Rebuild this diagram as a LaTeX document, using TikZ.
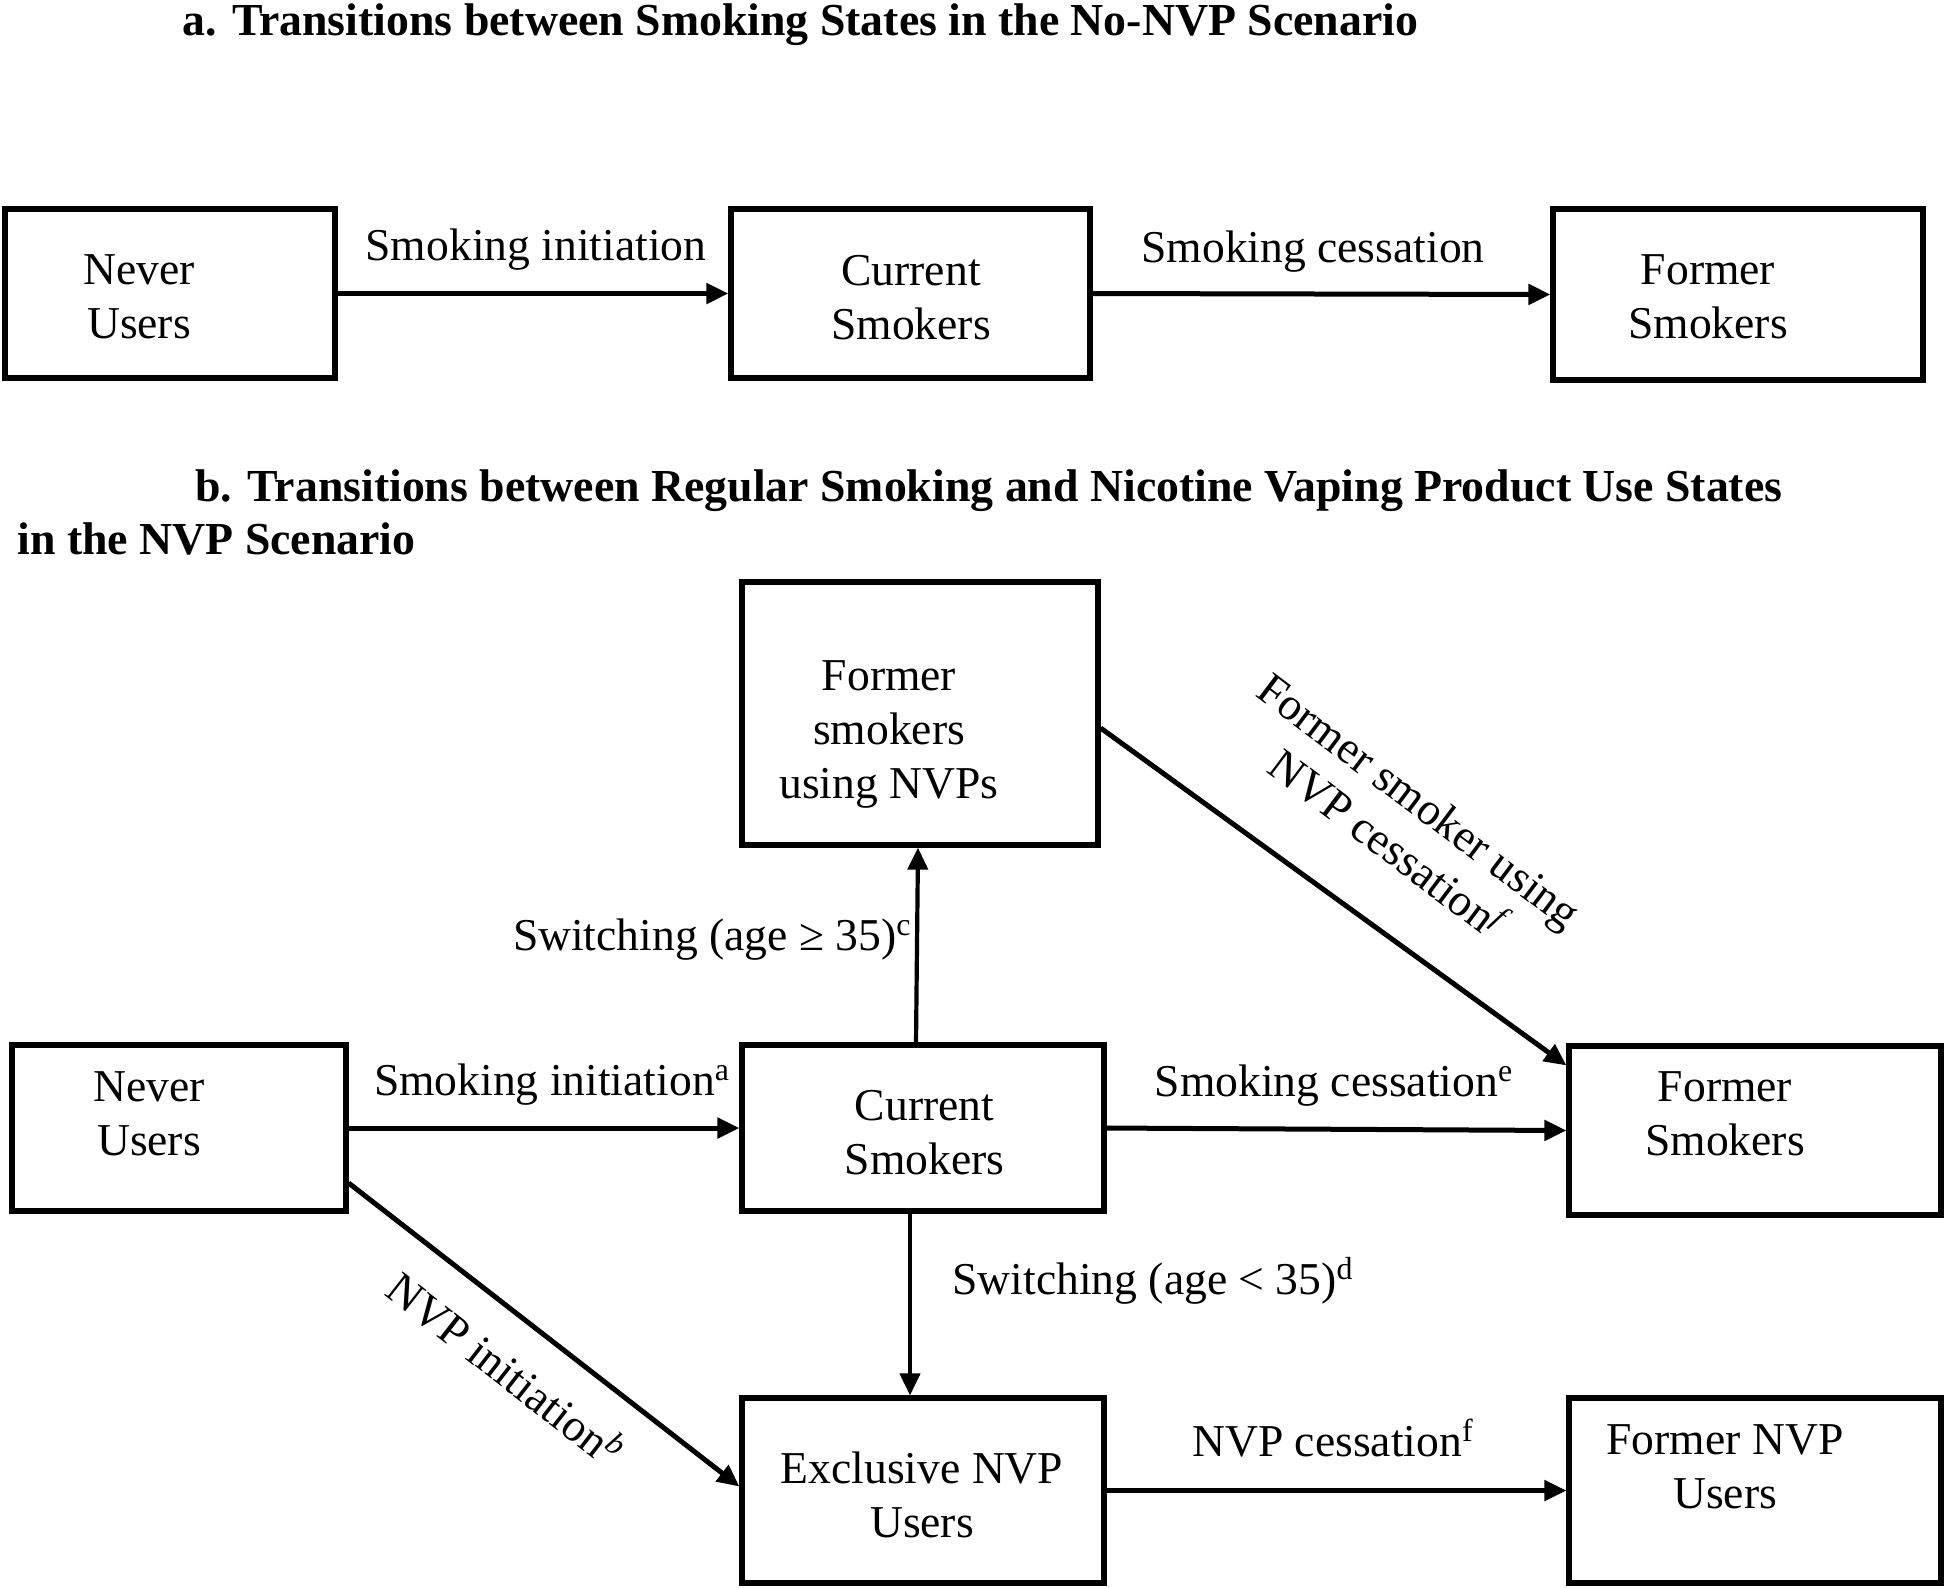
\documentclass[tikz,border=0pt]{standalone}
\usepackage{fontspec}
\setmainfont{Liberation Serif}
\usetikzlibrary{arrows.meta,calc}
\begin{document}
\begin{tikzpicture}[x=0.5pt,y=-0.5pt,
  every node/.style={inner sep=0pt, font=\fontsize{22.8pt}{27pt}\selectfont},
  box/.style={draw, line width=2.6pt},
  btext/.style={align=center},
  lbl/.style={},
  ttl/.style={font=\fontsize{22.9pt}{27pt}\selectfont\bfseries},
  arr/.style={line width=2.5pt, -{Triangle[length=11pt,width=10pt]}},
  varr/.style={line width=2.1pt, -{Triangle[length=11pt,width=10pt]}}]
\useasboundingbox (0,0) rectangle (1946,1587);
% titles
\node[ttl, anchor=base west] (ta) at (182,35) {a. Transitions between Smoking States in the No-NVP Scenario};
\node[ttl, anchor=base west] (tb1) at (195,501) {b. Transitions between Regular Smoking and Nicotine Vaping Product Use States};
\node[ttl, anchor=base west] (tb2) at (17,554) {in the NVP Scenario};
% part a boxes
\node[box, minimum width=165pt, minimum height=84.5pt] (na) at (170,293.5) {};
\node[box, minimum width=179.5pt, minimum height=84.5pt] (ca) at (910.5,293.5) {};
\node[box, minimum width=185pt, minimum height=85.5pt] (fa) at (1738,294.5) {};
\node[btext] (nat) at (139,297) {Never\\Users};
\node[btext] (cat) at (911,298) {Current\\Smokers};
\node[btext] (fat) at (1708,297) {Former\\Smokers};
\draw[arr] (na.east) -- (ca.west);
\draw[arr] (ca.east) -- (fa.west);
\node[lbl] (la1) at (536,250) {Smoking initiation};
\node[lbl] (la2) at (1313,252) {Smoking cessation};
% part b boxes
\node[box, minimum width=178pt, minimum height=131.5pt] (fsn) at (920,713.5) {};
\node[box, minimum width=167pt, minimum height=83pt] (nb) at (179,1128) {};
\node[box, minimum width=181pt, minimum height=83pt] (cb) at (923,1128) {};
\node[box, minimum width=186pt, minimum height=84.5pt] (fb) at (1755,1130.5) {};
\node[box, minimum width=181pt, minimum height=92.5pt] (eb) at (923,1490.5) {};
\node[box, minimum width=186pt, minimum height=92.5pt] (fnb) at (1755,1490.5) {};
\node[btext] (fsnt) at (889,734) {Former\\smokers\\using NVPs};
\node[btext] (nbt) at (149,1114) {Never\\Users};
\node[btext] (cbt) at (924.5,1133) {Current\\Smokers};
\node[btext] (fbt) at (1725,1114) {Former\\Smokers};
\node[btext] (ebt) at (922,1495) {Exclusive NVP\\Users};
\node[btext] (fnbt) at (1725,1467) {Former NVP\\Users};
% part b connectors
\draw[arr] (nb.east) -- (cb.west);
\draw[arr] (cb.east) -- (fb.west);
\draw[varr] ($(cb.north)+(-7,0)$) -- ($(fsn.south)+(-2,0)$);
\draw[varr] ($(cb.south)+(-13,0)$) -- ($(eb.north)+(-13,0)$);
\draw[arr] ($(nb.east)+(0,55)$) -- ($(eb.west)+(0,-4)$);
\draw[arr] ($(fsn.east)+(0,14.5)$) -- ($(fb.north west)+(0,22)$);
\draw[arr] (eb.east) -- (fnb.west);
% part b labels
\node[lbl] (lb1) at (552,1085) {Smoking initiation\textsuperscript{a}};
\node[lbl] (lb2) at (1334,1086) {Smoking cessation\textsuperscript{e}};
\node[lbl, anchor=east] (lb3) at (912,940) {Switching (age ≥ 35)\textsuperscript{c}};
\node[lbl] (lb4) at (1153,1281) {Switching (age < 35)\textsuperscript{d}};
\node[lbl] (lb5) at (1333,1438) {NVP cessation\textsuperscript{f}};
\node[lbl, rotate=-38] (lb6) at (507,1368) {NVP initiation\textsuperscript{\itshape b}};
\node[lbl, align=center, rotate=-37] (lb7) at (1403,822) {Former smoker using\\NVP cessation\textsuperscript{\itshape f}};
\end{tikzpicture}
\end{document}
